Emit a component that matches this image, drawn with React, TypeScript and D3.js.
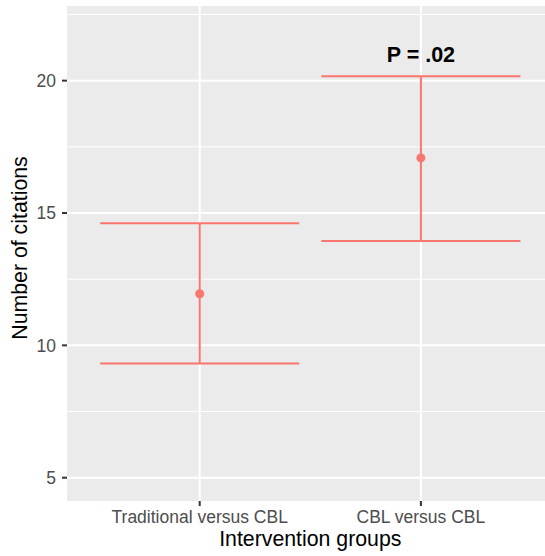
import React from "react";
import * as d3 from "d3";

const categories = ["Traditional versus CBL", "CBL versus CBL"];
const means = [11.95, 17.08];
const lowers = [9.31, 13.94];
const uppers = [14.61, 20.17];
const yTicks = [5, 10, 15, 20];
const yMinor = [7.5, 12.5, 17.5, 22.5];
const annotationText = "P = .02";
const annotationValue = 20.7;
const xTitle = "Intervention groups";
const yTitle = "Number of citations";

const W = 545;
const H = 556;
const panel = { left: 67, right: 553.6, top: 6, bottom: 501 };
const font = "'Liberation Sans', Arial, Helvetica, sans-serif";
const red = "#F8766D";

export default function App() {
  const x = d3
    .scalePoint<string>()
    .domain(categories)
    .range([panel.left, panel.right])
    .padding(0.6);
  const step = x.step();
  const y = d3.scaleLinear().domain([4.12, 22.82]).range([panel.bottom, panel.top]);
  const half = 0.45 * step;

  return (
    <svg
      width={W}
      height={H}
      style={{ position: "absolute", left: 0, top: 0, display: "block" }}
    >
      <rect x={0} y={0} width={W} height={H} fill="white" />
      <rect
        x={panel.left}
        y={panel.top}
        width={panel.right - panel.left}
        height={panel.bottom - panel.top}
        fill="#EBEBEB"
      />
      {yMinor.map((v) => (
        <line
          key={"mn" + v}
          x1={panel.left}
          x2={panel.right}
          y1={y(v)}
          y2={y(v)}
          stroke="white"
          strokeWidth={1}
        />
      ))}
      {yTicks.map((v) => (
        <line
          key={"mj" + v}
          x1={panel.left}
          x2={panel.right}
          y1={y(v)}
          y2={y(v)}
          stroke="white"
          strokeWidth={2}
        />
      ))}
      {categories.map((c) => (
        <line
          key={"vx" + c}
          x1={x(c)}
          x2={x(c)}
          y1={panel.top}
          y2={panel.bottom}
          stroke="white"
          strokeWidth={2}
        />
      ))}
      {categories.map((c, i) => {
        const cx = x(c)!;
        return (
          <g key={"eb" + c}>
            <line x1={cx} x2={cx} y1={y(uppers[i])} y2={y(lowers[i])} stroke={red} strokeWidth={2} />
            <line x1={cx - half} x2={cx + half} y1={y(uppers[i])} y2={y(uppers[i])} stroke={red} strokeWidth={2} />
            <line x1={cx - half} x2={cx + half} y1={y(lowers[i])} y2={y(lowers[i])} stroke={red} strokeWidth={2} />
            <circle cx={cx} cy={y(means[i])} r={4.5} fill={red} />
          </g>
        );
      })}
      <text
        x={x(categories[1])}
        y={y(annotationValue)}
        textAnchor="middle"
        fontFamily={font}
        fontWeight="bold"
        fontSize={21.5}
        fill="black"
      >
        {annotationText}
      </text>
      {yTicks.map((v) => (
        <g key={"yt" + v}>
          <line x1={panel.left - 5} x2={panel.left} y1={y(v)} y2={y(v)} stroke="#333333" strokeWidth={2} />
          <text
            x={56}
            y={y(v) + 6.3}
            textAnchor="end"
            fontFamily={font}
            fontSize={17.5}
            fill="#4D4D4D"
          >
            {v}
          </text>
        </g>
      ))}
      {categories.map((c) => (
        <g key={"xt" + c}>
          <line x1={x(c)} x2={x(c)} y1={panel.bottom} y2={panel.bottom + 5} stroke="#333333" strokeWidth={2} />
          <text
            x={x(c)}
            y={522.7}
            textAnchor="middle"
            fontFamily={font}
            fontSize={17.5}
            fill="#4D4D4D"
          >
            {c}
          </text>
        </g>
      ))}
      <text
        x={(panel.left + panel.right) / 2}
        y={545.7}
        textAnchor="middle"
        fontFamily={font}
        fontSize={21.3}
        fill="black"
      >
        {xTitle}
      </text>
      <text
        transform={`translate(27,248) rotate(-90)`}
        textAnchor="middle"
        fontFamily={font}
        fontSize={21.3}
        fill="black"
      >
        {yTitle}
      </text>
    </svg>
  );
}
